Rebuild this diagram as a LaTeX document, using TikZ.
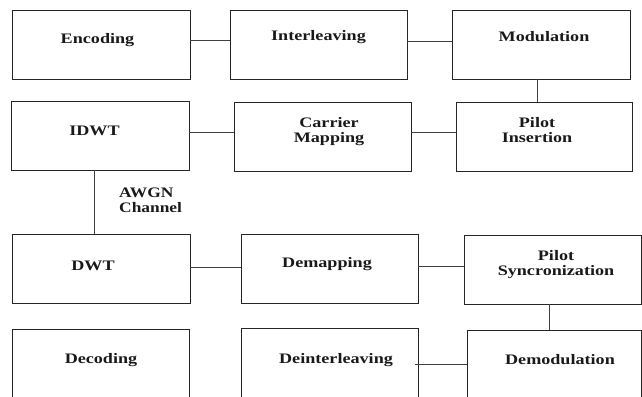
\documentclass[tikz,border=0pt]{standalone}
\usepackage{fontspec}
\usepackage{graphicx}
\setmainfont{Liberation Serif}
\newcommand{\wtxt}[1]{\scalebox{1.25}[1]{\begin{tabular}{@{}c@{}}#1\end{tabular}}}
\begin{document}
\begin{tikzpicture}[x=1pt,y=-1pt,
  blk/.style={draw=black!85,line width=0.9pt,inner sep=0pt,minimum height=69pt},
  lbl/.style={inner sep=0pt,font=\fontsize{14.5}{15}\selectfont\bfseries,text=black!90},
  conn/.style={draw=black!75,line width=1pt}]
\useasboundingbox (0,0) rectangle (642,396);
% boxes
\node[blk,minimum width=178pt] (enc) at (101,44.5) {};
\node[blk,minimum width=177pt] (intl) at (318.5,44.5) {};
\node[blk,minimum width=178pt] (mod) at (541,44.5) {};
\node[blk,minimum width=178pt] (idwt) at (100,135.5) {};
\node[blk,minimum width=177pt] (cmap) at (322.5,136.5) {};
\node[blk,minimum width=176pt] (pins) at (544,136.5) {};
\node[blk,minimum width=178pt] (dwt) at (101,268.5) {};
\node[blk,minimum width=177pt] (demap) at (329.5,268.5) {};
\node[blk,minimum width=177pt] (psync) at (552.5,269.5) {};
\node[blk,minimum width=177pt] (dec) at (100.5,363.5) {};
\node[blk,minimum width=177pt] (deint) at (329.5,362.5) {};
\node[blk,minimum width=174pt] (demod) at (554,364.5) {};
% labels
\node[lbl] (encT) at (97.5,41) {\wtxt{Encoding}};
\node[lbl] (intlT) at (318.5,38) {\wtxt{Interleaving}};
\node[lbl] (modT) at (544,39) {\wtxt{Modulation}};
\node[lbl] (idwtT) at (94.5,132) {\wtxt{IDWT}};
\node[lbl] (cmapT) at (329,132) {\wtxt{Carrier\\Mapping}};
\node[lbl] (pinsT) at (537,132) {\wtxt{Pilot\\Insertion}};
\node[lbl] (dwtT) at (93,267) {\wtxt{DWT}};
\node[lbl] (demapT) at (327,264) {\wtxt{Demapping}};
\node[lbl] (psyncT) at (556,265) {\wtxt{Pilot\\Syncronization}};
\node[lbl] (decT) at (101,360) {\wtxt{Decoding}};
\node[lbl] (deintT) at (336,360) {\wtxt{Deinterleaving}};
\node[lbl] (demodT) at (560,361) {\wtxt{Demodulation}};
\node[lbl,anchor=west] (awgnT) at (119,201.5) {\scalebox{1.2}[1]{\begin{tabular}{@{}l@{}}AWGN\\Channel\end{tabular}}};
% connectors
\draw[conn] ([yshift=3.5pt]enc.east) -- ([yshift=3.5pt]intl.west);
\draw[conn] ([yshift=2.5pt]intl.east) -- ([yshift=2.5pt]mod.west);
\draw[conn] ([xshift=-4pt]mod.south) -- ([xshift=-4pt]mod.south |- pins.north);
\draw[conn] ([yshift=3.5pt]idwt.east) -- ([yshift=3.5pt]idwt.east -| cmap.west);
\draw[conn] ([yshift=4.5pt]cmap.east) -- ([yshift=4.5pt]pins.west);
\draw[conn] ([xshift=-6pt]idwt.south) -- ([xshift=-6pt]idwt.south |- dwt.north);
\draw[conn] ([yshift=1.5pt]dwt.east) -- ([yshift=1.5pt]dwt.east -| demap.west);
\draw[conn] ([yshift=2.5pt]demap.east) -- ([yshift=2.5pt]demap.east -| psync.west);
\draw[conn] ([xshift=-3.5pt]psync.south) -- ([xshift=-3.5pt]psync.south |- demod.north);
\draw[conn] ([xshift=-3pt,yshift=-1.5pt]deint.east) -- ([yshift=-1.5pt]deint.east -| demod.west);
\end{tikzpicture}
\end{document}
